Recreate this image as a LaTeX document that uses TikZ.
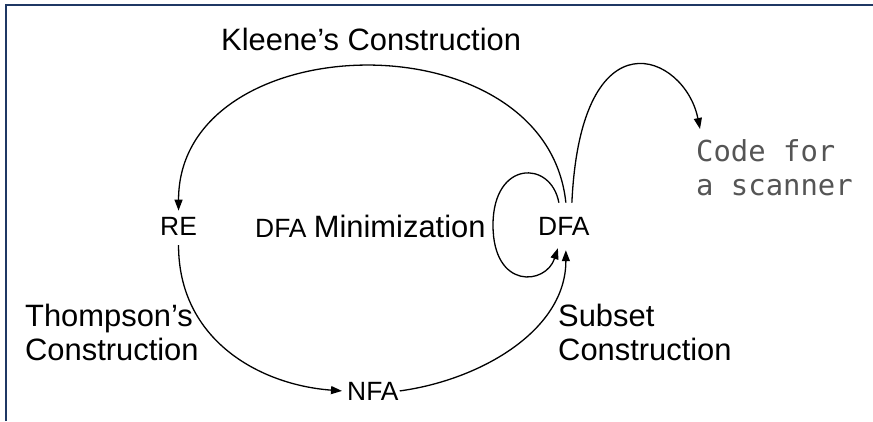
\documentclass[tikz,border=0pt]{standalone}
\usepackage{fontspec}
\setmainfont{Liberation Sans}
\newfontfamily\codefont{DejaVu Sans Mono}
\usetikzlibrary{arrows.meta}
\definecolor{framecol}{RGB}{31,56,100}
\definecolor{codegray}{RGB}{85,85,85}
\begin{document}
\begin{tikzpicture}[x=1bp,y=-1bp,
  conn/.style={line width=1.3bp, -{Triangle[length=11bp,width=8bp]}},
  state/.style={inner sep=0pt, font=\fontsize{26.5}{30}\selectfont},
  lbl/.style={inner sep=0pt, align=left, font=\fontsize{31}{34}\selectfont},
  codelbl/.style={inner sep=0pt, align=left, text=codegray, font=\codefont\fontsize{29}{34}\selectfont},
]
\useasboundingbox (0,0) rectangle (873,421);
\draw[framecol, line width=2bp, line join=miter] (6,421) -- (6,5) -- (873,5);

\node[state, anchor=base west] (RE) at (160,235) {RE};
\node[state, anchor=base west] (DFA) at (538,235) {DFA};
\node[state, anchor=base west] (NFA) at (347,400) {NFA};

\node[lbl, anchor=base west] (kleene) at (221,50) {Kleene’s Construction};
\node[inner sep=0pt, anchor=base west] (minim) at (255,237)
  {\fontsize{26.5}{30}\selectfont DFA \fontsize{31}{34}\selectfont Minimization};
\node[lbl, anchor=north west] (thompson) at (25,304) {Thompson’s\\Construction};
\node[lbl, anchor=north west] (subset) at (558,304) {Subset\\Construction};
\node[codelbl, anchor=north west] (code) at (696,139) {Code for\\a scanner};

% Kleene's construction: DFA -> RE
\draw[conn] ([xshift=2bp,yshift=14bp]DFA.north)
  .. controls +(-20,-188) and +(0,-186) .. ([yshift=6bp]RE.north);
% Thompson's construction: RE -> NFA
\draw[conn] ([yshift=-10bp]RE.south)
  .. controls +(0,95) and +(-82,-6) .. ([xshift=-5bp]NFA.west);
% Subset construction: NFA -> DFA
\draw[conn] ([xshift=1bp]NFA.east)
  .. controls +(81,-11) and +(0,80) .. ([xshift=2bp,yshift=-15bp]DFA.south);
% DFA minimization loop
\draw[conn] ([xshift=-5bp,yshift=14bp]DFA.north)
  .. controls +(-8,-43) and +(0,-65) .. (493,225)
  .. controls +(0,65) and +(-12,37) .. ([xshift=-6bp,yshift=-13bp]DFA.south);
% DFA -> code for a scanner
\draw[conn] ([xshift=8bp,yshift=14bp]DFA.north)
  .. controls +(9,-193) and +(-15,-75) .. ([xshift=4bp,yshift=10bp]code.north west);
\end{tikzpicture}
\end{document}
